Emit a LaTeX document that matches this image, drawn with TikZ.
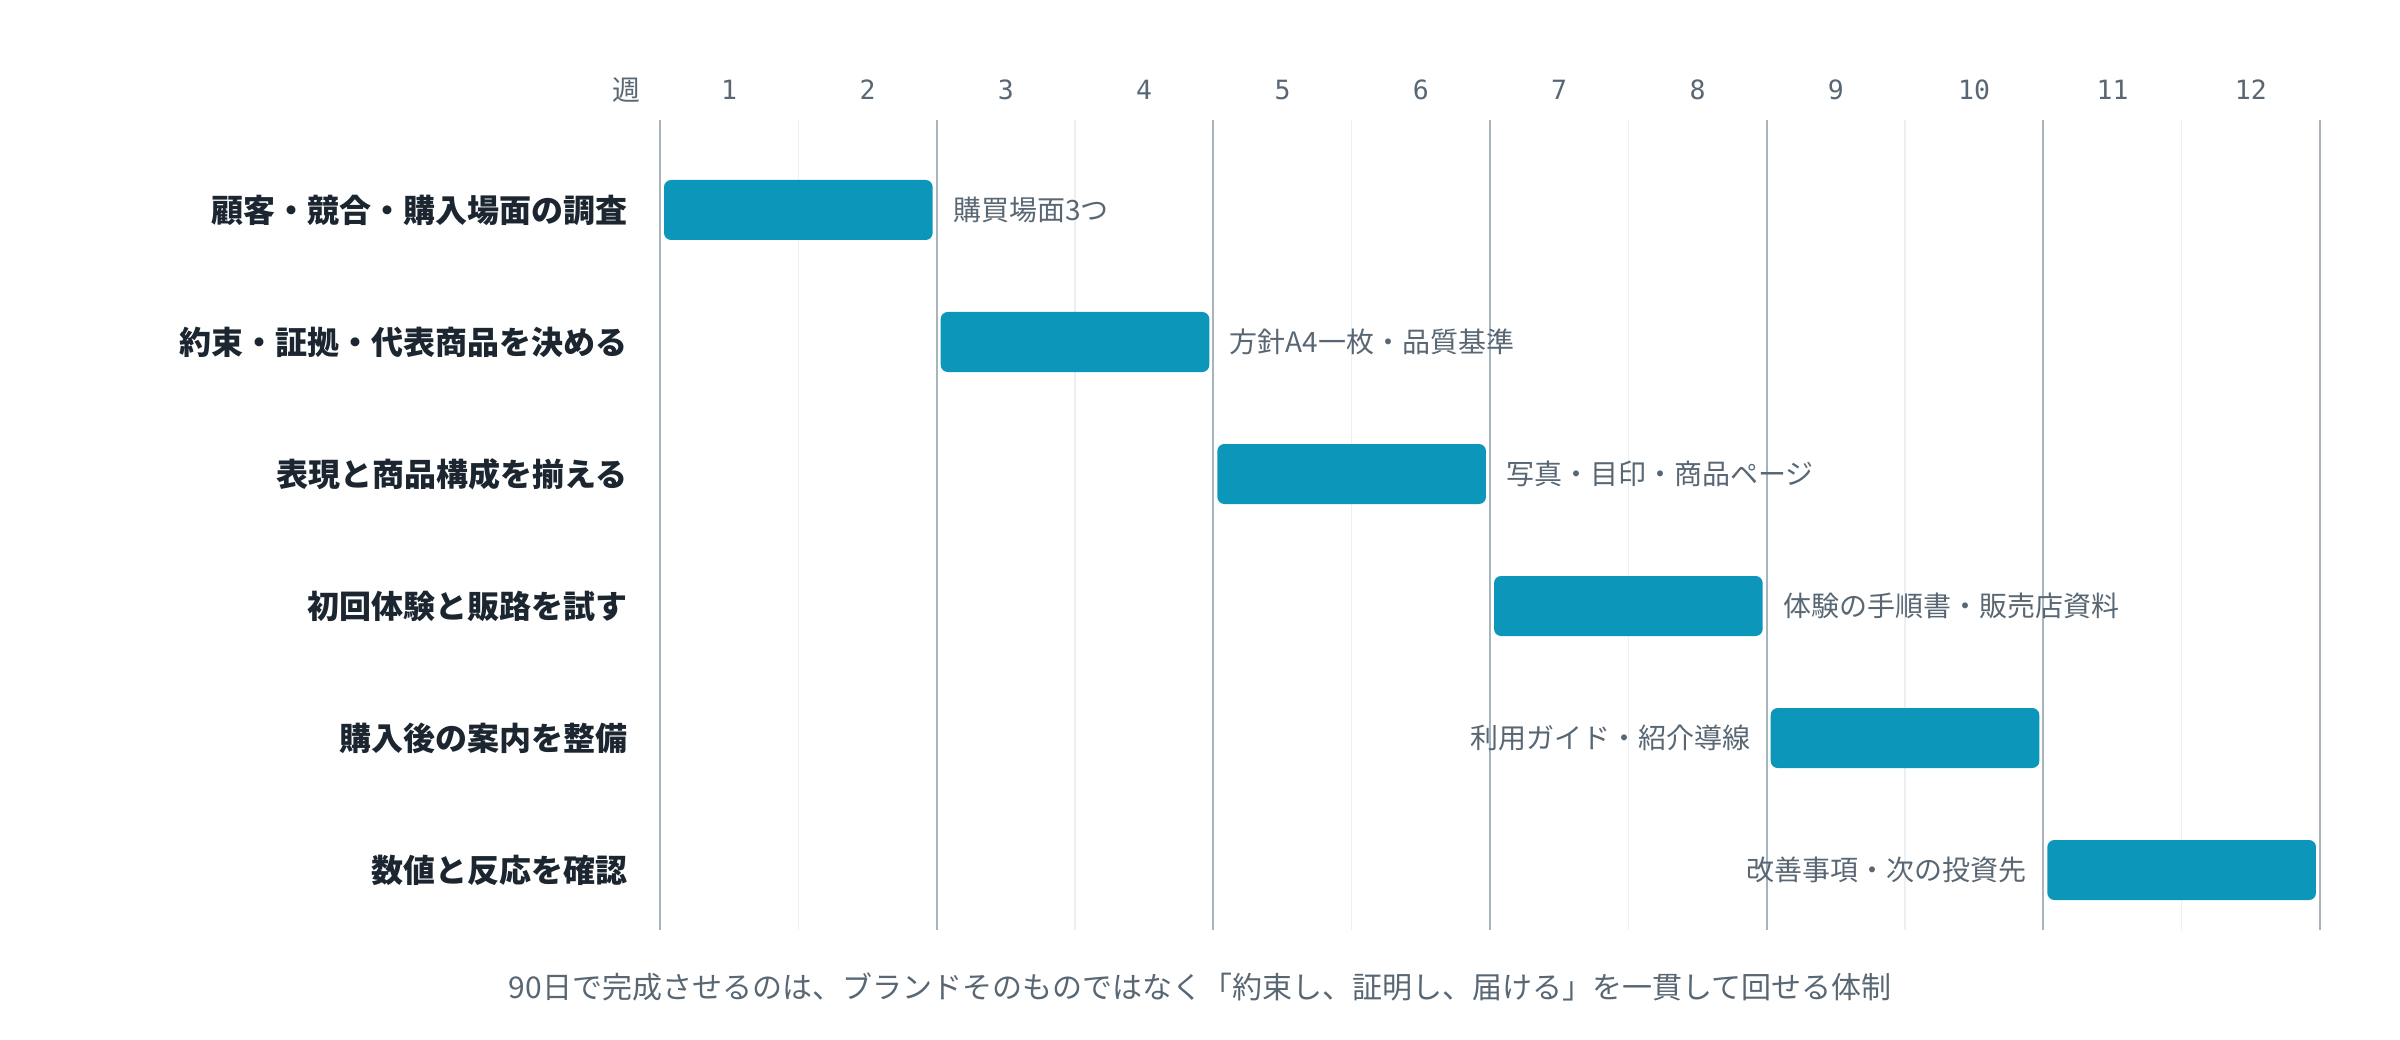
\documentclass[tikz,border=0pt]{standalone}
\usepackage{fontspec}
\newfontfamily\jp{Noto Sans CJK JP}
\newfontfamily\monofnt{DejaVu Sans Mono}
\definecolor{barblue}{RGB}{12,150,186}
\definecolor{gridmajor}{RGB}{167,180,190}
\definecolor{gridminor}{RGB}{237,240,242}
\definecolor{labeldark}{RGB}{28,38,48}
\definecolor{annogray}{RGB}{88,103,115}
\tikzset{
  bar/.style={fill=barblue, draw=none, rounded corners=7pt, minimum width=268.6pt, minimum height=60pt, inner sep=0pt},
  tasklabel/.style={anchor=east, inner sep=0pt, text=labeldark, font=\jp\bfseries\fontsize{32}{38}\selectfont},
  anno/.style={inner sep=0pt, text=annogray, font=\jp\fontsize{28}{34}\selectfont},
  weeknum/.style={inner sep=0pt, text=annogray, font=\monofnt\fontsize{26.5}{30}\selectfont},
  majorline/.style={draw=gridmajor, line width=2pt},
  minorline/.style={draw=gridminor, line width=1.5pt},
  footer/.style={inner sep=0pt, text=annogray, font=\jp\fontsize{30}{36}\selectfont}
}
\begin{document}
\begin{tikzpicture}[x=1pt,y=-1pt]
\useasboundingbox (0,0) rectangle (2400,1040);
% grid lines
\foreach \k in {1,3,...,11} {
  \coordinate (gt\k) at ({660+138.333*\k},120);
  \coordinate (gb\k) at ({660+138.333*\k},930);
  \draw[minorline] (gt\k) -- (gb\k);
}
\foreach \k in {0,2,...,12} {
  \coordinate (gt\k) at ({660+138.333*\k},120);
  \coordinate (gb\k) at ({660+138.333*\k},930);
  \draw[majorline] (gt\k) -- (gb\k);
}
% header
\node[weeknum, anchor=east, font=\jp\fontsize{28}{32}\selectfont] (wk) at (641,90) {週};
\foreach \k in {1,...,12} {
  \node[weeknum] (h\k) at ({660+138.333*(\k-0.5)},90) {\k};
}
% bars
\node[bar] (b1) at ({660+138.333*1},210) {};
\node[bar] (b2) at ({660+138.333*3},342) {};
\node[bar] (b3) at ({660+138.333*5},474) {};
\node[bar] (b4) at ({660+138.333*7},606) {};
\node[bar] (b5) at ({660+138.333*9},738) {};
\node[bar] (b6) at ({660+138.333*11},870) {};
% task labels
\node[tasklabel] (t1) at (628,210) {顧客・競合・購入場面の調査};
\node[tasklabel] (t2) at (628,342) {約束・証拠・代表商品を決める};
\node[tasklabel] (t3) at (628,474) {表現と商品構成を揃える};
\node[tasklabel] (t4) at (628,606) {初回体験と販路を試す};
\node[tasklabel] (t5) at (628,738) {購入後の案内を整備};
\node[tasklabel] (t6) at (628,870) {数値と反応を確認};
% deliverables
\node[anno, anchor=west] (a1) at ([xshift=20pt]b1.east) {購買場面3つ};
\node[anno, anchor=west] (a2) at ([xshift=20pt]b2.east) {方針A4一枚・品質基準};
\node[anno, anchor=west] (a3) at ([xshift=20pt]b3.east) {写真・目印・商品ページ};
\node[anno, anchor=west] (a4) at ([xshift=20pt]b4.east) {体験の手順書・販売店資料};
\node[anno, anchor=east] (a5) at ([xshift=-20pt]b5.west) {利用ガイド・紹介導線};
\node[anno, anchor=east] (a6) at ([xshift=-20pt]b6.west) {改善事項・次の投資先};
% footer
\node[footer] (foot) at (1200,987) {90日で完成させるのは、ブランドそのものではなく「約束し、証明し、届ける」を一貫して回せる体制};
\end{tikzpicture}
\end{document}
